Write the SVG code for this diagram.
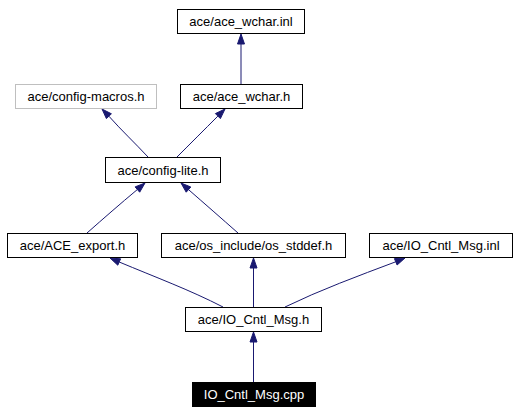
<svg xmlns="http://www.w3.org/2000/svg" width="517" height="413" viewBox="0 0 517 413">
<style>
.n rect{fill:#ffffff;stroke:#000000;stroke-width:1}
.n text{font-family:"Liberation Sans",Arial,sans-serif;font-size:13px;text-anchor:middle;fill:#000000}
.g rect{stroke:#bfbfbf}
.cur rect{fill:#000000}
.cur text{fill:#ffffff}
.e path{fill:none;stroke:#191970;stroke-width:1}
.e polygon{fill:#191970;stroke:#191970;stroke-width:1}
</style>
<rect x="0" y="0" width="517" height="413" fill="#ffffff"/>
<g id="edges" class="e">
<path d="M241,84 L241,44"/><polygon points="241,34 237.5,44 244.5,44"/>
<path d="M148,157 C135,143 122,131 108.9,116.2"/><polygon points="102,109 111.4,113.8 106.4,118.6"/>
<path d="M177,157 C190,144 204,130 217.9,116.1"/><polygon points="225,109 220.4,118.6 215.4,113.6"/>
<path d="M87,233 C104,218 120,204 137.4,189.5"/><polygon points="145,183 139.7,192.2 135.1,186.9"/>
<path d="M238,233 C221,218 205,204 188.5,189.6"/><polygon points="181,183 190.8,187 186.2,192.2"/>
<path d="M223,307 C190,290 155,277 119.2,262"/><polygon points="110,258 120.6,258.8 117.8,265.2"/>
<path d="M253.5,307 L253.5,268"/><polygon points="253.5,258 250,268 257,268"/>
<path d="M285,307 C320,290 358,276 395.7,261.8"/><polygon points="405,258 397.1,265 394.4,258.6"/>
<path d="M253.5,382 L253.5,342"/><polygon points="253.5,332 250,342 257,342"/>
</g>
<g id="node_ace_wchar_inl" class="n"><rect x="177.5" y="9.5" width="127" height="24"/><text x="241" y="26">ace/ace_wchar.inl</text></g>
<g id="node_config_macros" class="n g"><rect x="15.5" y="84.5" width="141" height="24"/><text x="86" y="101">ace/config-macros.h</text></g>
<g id="node_ace_wchar_h" class="n"><rect x="180.5" y="84.5" width="122" height="24"/><text x="241.5" y="101">ace/ace_wchar.h</text></g>
<g id="node_config_lite" class="n"><rect x="105.5" y="157.5" width="115" height="25"/><text x="163" y="174.5">ace/config-lite.h</text></g>
<g id="node_ace_export" class="n"><rect x="7.5" y="233.5" width="130" height="24"/><text x="72.5" y="250">ace/ACE_export.h</text></g>
<g id="node_os_stddef" class="n"><rect x="161.5" y="233.5" width="184" height="24"/><text x="253.5" y="250">ace/os_include/os_stddef.h</text></g>
<g id="node_io_cntl_msg_inl" class="n"><rect x="369.5" y="233.5" width="143" height="24"/><text x="441" y="250">ace/IO_Cntl_Msg.inl</text></g>
<g id="node_io_cntl_msg_h" class="n"><rect x="185.5" y="307.5" width="136" height="24"/><text x="253.5" y="324">ace/IO_Cntl_Msg.h</text></g>
<g id="node_io_cntl_msg_cpp" class="n cur"><rect x="192.5" y="382.5" width="123" height="24"/><text x="254" y="399">IO_Cntl_Msg.cpp</text></g>
</svg>
